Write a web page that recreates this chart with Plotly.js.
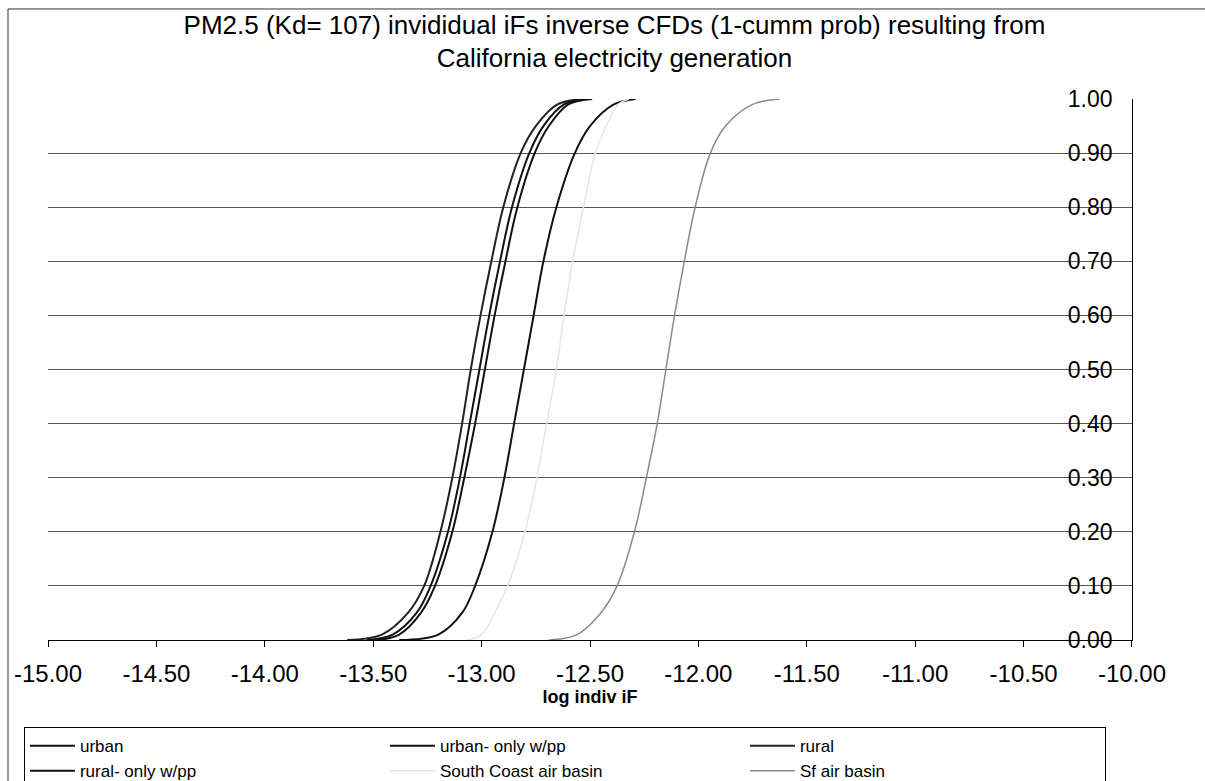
<!DOCTYPE html>
<html>
<head>
<meta charset="utf-8">
<script src="https://cdn.plot.ly/plotly-3.0.1.min.js"></script>
<style>html,body{margin:0;padding:0;background:#fff;}#chart{width:1205px;height:781px;}</style>
</head>
<body>
<div id="chart"></div>
<script>
// cumulative probability levels (y values)
const prob = [0, 0.01, 0.05, 0.1, 0.2, 0.3, 0.4, 0.5, 0.6, 0.7, 0.8, 0.9, 0.95, 0.99, 1.0];

// log indiv iF read at each probability level
const urban            = [-13.38, -13.20, -13.09, -13.03, -12.95, -12.895, -12.85, -12.805, -12.76, -12.715, -12.655, -12.57, -12.50, -12.39, -12.29];
const urbanOnlyPP      = [-13.48, -13.38, -13.28, -13.215, -13.135, -13.08, -13.03, -12.985, -12.94, -12.89, -12.835, -12.755, -12.69, -12.60, -12.49];
const rural            = [-13.62, -13.46, -13.34, -13.265, -13.19, -13.135, -13.09, -13.05, -13.005, -12.955, -12.90, -12.82, -12.75, -12.65, -12.525];
const ruralOnlyPP      = [-13.53, -13.41, -13.30, -13.235, -13.155, -13.10, -13.055, -13.01, -12.965, -12.915, -12.86, -12.78, -12.715, -12.62, -12.51];
const southCoast       = [-13.07, -13.00, -12.94, -12.88, -12.80, -12.745, -12.70, -12.655, -12.62, -12.58, -12.53, -12.475, -12.425, -12.37, -12.32];
const sfAirBasin       = [-12.69, -12.56, -12.45, -12.375, -12.295, -12.24, -12.19, -12.15, -12.11, -12.065, -12.015, -11.945, -11.875, -11.75, -11.625];

const seriesNames = ['urban', 'urban- only w/pp', 'rural', 'rural- only w/pp', 'South Coast air basin', 'Sf air basin'];

const xTickVals   = [-15, -14.5, -14, -13.5, -13, -12.5, -12, -11.5, -11, -10.5, -10];
const xTickLabels = ['-15.00', '-14.50', '-14.00', '-13.50', '-13.00', '-12.50', '-12.00', '-11.50', '-11.00', '-10.50', '-10.00'];
const yTickVals   = [0, 0.1, 0.2, 0.3, 0.4, 0.5, 0.6, 0.7, 0.8, 0.9, 1.0];
const yTickLabels = ['0.00', '0.10', '0.20', '0.30', '0.40', '0.50', '0.60', '0.70', '0.80', '0.90', '1.00'];

const seriesX = [urban, urbanOnlyPP, rural, ruralOnlyPP, southCoast, sfAirBasin];
const styles = [
  {color: '#111', width: 2},
  {color: '#111', width: 2},
  {color: '#222', width: 2},
  {color: '#111', width: 2},
  {color: '#e6e6e6', width: 1.5},
  {color: '#8a8a8a', width: 1.5}
];

const FONT = '"Liberation Sans", Arial, sans-serif';

const traces = seriesX.map((xs, i) => ({
  type: 'scatter',
  mode: 'lines',
  x: xs,
  y: prob,
  name: seriesNames[i],
  line: {color: styles[i].color, width: styles[i].width, shape: 'spline', smoothing: 1.0},
  hoverinfo: 'x+y+name'
}));

const layout = {
  width: 1205,
  height: 781,
  paper_bgcolor: '#fff',
  plot_bgcolor: '#fff',
  margin: {l: 48, r: 73, t: 99, b: 141, autoexpand: false},
  font: {family: FONT, color: '#000'},
  title: {
    text: 'PM2.5 (Kd= 107) invididual iFs inverse CFDs (1-cumm prob) resulting from<br>California electricity generation',
    font: {family: FONT, size: 26, color: '#000'},
    x: 0.51, xanchor: 'center', xref: 'container',
    y: 0.957, yanchor: 'top', yref: 'container'
  },
  xaxis: {
    range: [-15.0001, -9.9999],
    tickvals: xTickVals,
    ticktext: xTickLabels,
    ticks: 'outside', ticklen: 6, tickcolor: '#000', tickwidth: 1,
    ticklabelstandoff: 6,
    ticklabeloverflow: 'allow',
    showline: true, linecolor: '#000', linewidth: 1,
    showgrid: false, zeroline: false,
    tickfont: {family: FONT, size: 24, color: '#000'},
    title: {text: '<b>log indiv iF</b>', font: {family: FONT, size: 18, color: '#000'}, standoff: 4},
    automargin: false,
    fixedrange: true
  },
  yaxis: {
    range: [0, 1],
    side: 'right',
    tickvals: yTickVals,
    ticktext: yTickLabels,
    ticklabelposition: 'inside',
    ticklabelstandoff: 21,
    ticklabeloverflow: 'allow',
    ticks: '',
    showline: true, linecolor: '#000', linewidth: 1,
    showgrid: true, gridcolor: '#555', gridwidth: 1,
    zeroline: false,
    tickfont: {family: FONT, size: 23, color: '#000'},
    automargin: false,
    fixedrange: true
  },
  showlegend: true,
  legend: {
    orientation: 'h',
    x: -0.0222, xanchor: 'left',
    y: -0.161, yanchor: 'top',
    entrywidth: 300, entrywidthmode: 'pixels',
    bgcolor: '#fff', bordercolor: '#000', borderwidth: 1,
    font: {family: FONT, size: 17, color: '#000'},
    itemwidth: 45,
    tracegroupgap: 0
  },
  shapes: [
    {type: 'line', xref: 'paper', yref: 'paper', x0: -0.0369, x1: -0.0369, y0: -0.5, y1: 1.1664, line: {color: '#333', width: 1}},
    {type: 'line', xref: 'paper', yref: 'paper', x0: -0.0369, x1: 1.2, y0: 1.1664, y1: 1.1664, line: {color: '#333', width: 1}}
  ]
};

Plotly.newPlot('chart', traces, layout, {displayModeBar: false, staticPlot: true});
</script>
</body>
</html>
